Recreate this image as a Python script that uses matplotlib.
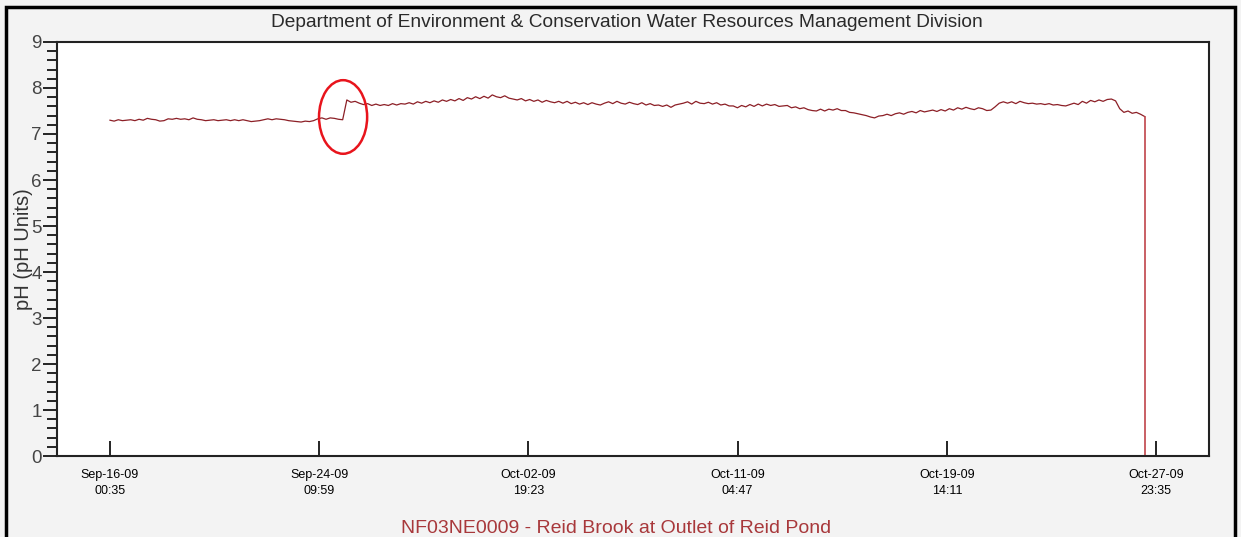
import numpy as np
import matplotlib
matplotlib.use('Agg')
import matplotlib.pyplot as plt
import matplotlib.dates as mdates
from matplotlib.patches import Ellipse, Rectangle
from datetime import datetime, timedelta

# pH readings, one every 4 hours from Sep-16-09 00:35 (one row = one day)
ph_values = [
    7.30, 7.28, 7.31, 7.29, 7.30, 7.31,
    7.29, 7.32, 7.30, 7.34, 7.32, 7.31,
    7.28, 7.29, 7.33, 7.32, 7.34, 7.32,
    7.33, 7.31, 7.35, 7.32, 7.31, 7.29,
    7.30, 7.31, 7.29, 7.30, 7.31, 7.29,
    7.31, 7.29, 7.31, 7.29, 7.27, 7.28,
    7.29, 7.31, 7.33, 7.31, 7.33, 7.32,
    7.31, 7.29, 7.28, 7.27, 7.26, 7.28,
    7.27, 7.29, 7.33, 7.35, 7.32, 7.35,
    7.34, 7.32, 7.31, 7.74, 7.69, 7.71,
    7.67, 7.64, 7.66, 7.62, 7.65, 7.62,
    7.64, 7.62, 7.66, 7.63, 7.66, 7.65,
    7.68, 7.65, 7.70, 7.67, 7.71, 7.68,
    7.72, 7.69, 7.74, 7.71, 7.75, 7.72,
    7.77, 7.73, 7.79, 7.76, 7.81, 7.77,
    7.82, 7.78, 7.85, 7.81, 7.79, 7.83,
    7.78, 7.76, 7.74, 7.77, 7.72, 7.75,
    7.71, 7.74, 7.69, 7.73, 7.70, 7.68,
    7.71, 7.67, 7.71, 7.66, 7.69, 7.65,
    7.68, 7.64, 7.68, 7.65, 7.63, 7.67,
    7.70, 7.66, 7.71, 7.67, 7.65, 7.69,
    7.66, 7.64, 7.68, 7.63, 7.66, 7.62,
    7.63, 7.60, 7.63, 7.58, 7.63, 7.65,
    7.67, 7.70, 7.65, 7.71, 7.67, 7.66,
    7.69, 7.65, 7.68, 7.63, 7.65, 7.61,
    7.61, 7.57, 7.62, 7.59, 7.64, 7.60,
    7.65, 7.61, 7.65, 7.62, 7.64, 7.60,
    7.61, 7.62, 7.57, 7.59, 7.55, 7.57,
    7.53, 7.51, 7.50, 7.54, 7.50, 7.54,
    7.52, 7.55, 7.51, 7.51, 7.47, 7.46,
    7.44, 7.42, 7.40, 7.37, 7.35, 7.39,
    7.40, 7.43, 7.40, 7.44, 7.46, 7.43,
    7.47, 7.49, 7.46, 7.51, 7.48, 7.50,
    7.52, 7.49, 7.53, 7.50, 7.55, 7.52,
    7.57, 7.54, 7.58, 7.55, 7.53, 7.57,
    7.55, 7.51, 7.52, 7.59, 7.67, 7.70,
    7.67, 7.70, 7.66, 7.71, 7.68, 7.66,
    7.67, 7.65, 7.66, 7.64, 7.66, 7.63,
    7.64, 7.62, 7.61, 7.64, 7.67, 7.64,
    7.71, 7.67, 7.73, 7.70, 7.74, 7.71,
    7.75, 7.76, 7.72, 7.55, 7.47, 7.50,
    7.45, 7.47, 7.43, 7.38,
]
drop_value = 0.0  # sensor reading falls to 0 at the end of the record

tick_labels_dates = ['2009-09-16 00:35', '2009-09-24 09:59', '2009-10-02 19:23',
                     '2009-10-11 04:47', '2009-10-19 14:11', '2009-10-27 23:35']

title = 'Department of Environment & Conservation Water Resources Management Division'
station = 'NF03NE0009 - Reid Brook at Outlet of Reid Pond'

start = datetime(2009, 9, 16, 0, 35)
times = [start + timedelta(hours=4 * i) for i in range(len(ph_values))]
tick_dates = [datetime.strptime(s, '%Y-%m-%d %H:%M') for s in tick_labels_dates]

plt.rcParams['font.family'] = ['Liberation Sans', 'DejaVu Sans']

fig = plt.figure(figsize=(12.41, 5.37), dpi=100, facecolor='#f3f3f3')
ax = fig.add_axes([0.0459, 0.1508, 0.9283, 0.771])
ax.set_facecolor('white')

# border round the whole picture
fig.patches.append(Rectangle((0.005, -0.05), 0.99, 1.037, transform=fig.transFigure,
                             fill=False, edgecolor='black', linewidth=2.5))

line_color = '#8c1f26'
ax.plot(times, ph_values, color=line_color, linewidth=0.9)
ax.plot([times[-1], times[-1]], [ph_values[-1], drop_value], color='#c0444a', linewidth=1.2)

# red circle marking the step
jump_center = start + timedelta(days=9.35)
ax.add_patch(Ellipse((mdates.date2num(jump_center), 7.37), 1.93, 1.6,
                     fill=False, edgecolor='#e8141c', linewidth=1.8, zorder=5))

ax.set_ylim(0, 9)
ax.set_xlim(start - timedelta(days=2.126), start + timedelta(days=44.08))
ax.set_yticks(range(0, 10))
ax.set_yticks(np.arange(0, 9.01, 0.2), minor=True)
ax.tick_params(axis='y', which='major', direction='out', length=10, width=1.2,
               labelsize=13.5, labelcolor='#444444', pad=1)
ax.tick_params(axis='y', which='minor', direction='out', length=7, width=1.2)

ax.xaxis.set_major_locator(matplotlib.ticker.FixedLocator(mdates.date2num(tick_dates)))
ax.xaxis.set_major_formatter(mdates.DateFormatter('%b-%d-%y\n%H:%M'))
ax.xaxis.set_minor_locator(matplotlib.ticker.NullLocator())
ax.tick_params(axis='x', which='major', direction='in', length=11, width=1.2,
               labelsize=9, pad=9)
for lbl in ax.get_xticklabels():
    lbl.set_horizontalalignment('center')
    lbl.set_linespacing(1.55)

for s in ax.spines.values():
    s.set_linewidth(1.5)
    s.set_color('#222222')

ax.set_ylabel('pH (pH Units)', fontsize=14.5, color='#333333', labelpad=-1)
fig.text(0.505, 0.959, title, ha='center', va='center', fontsize=13.8, color='#2a2a2a')
fig.text(0.4968, 0.016, station, ha='center', va='center', fontsize=14, color='#a8383b')

plt.savefig('out.png', dpi=100, facecolor=fig.get_facecolor())
plt.close()
